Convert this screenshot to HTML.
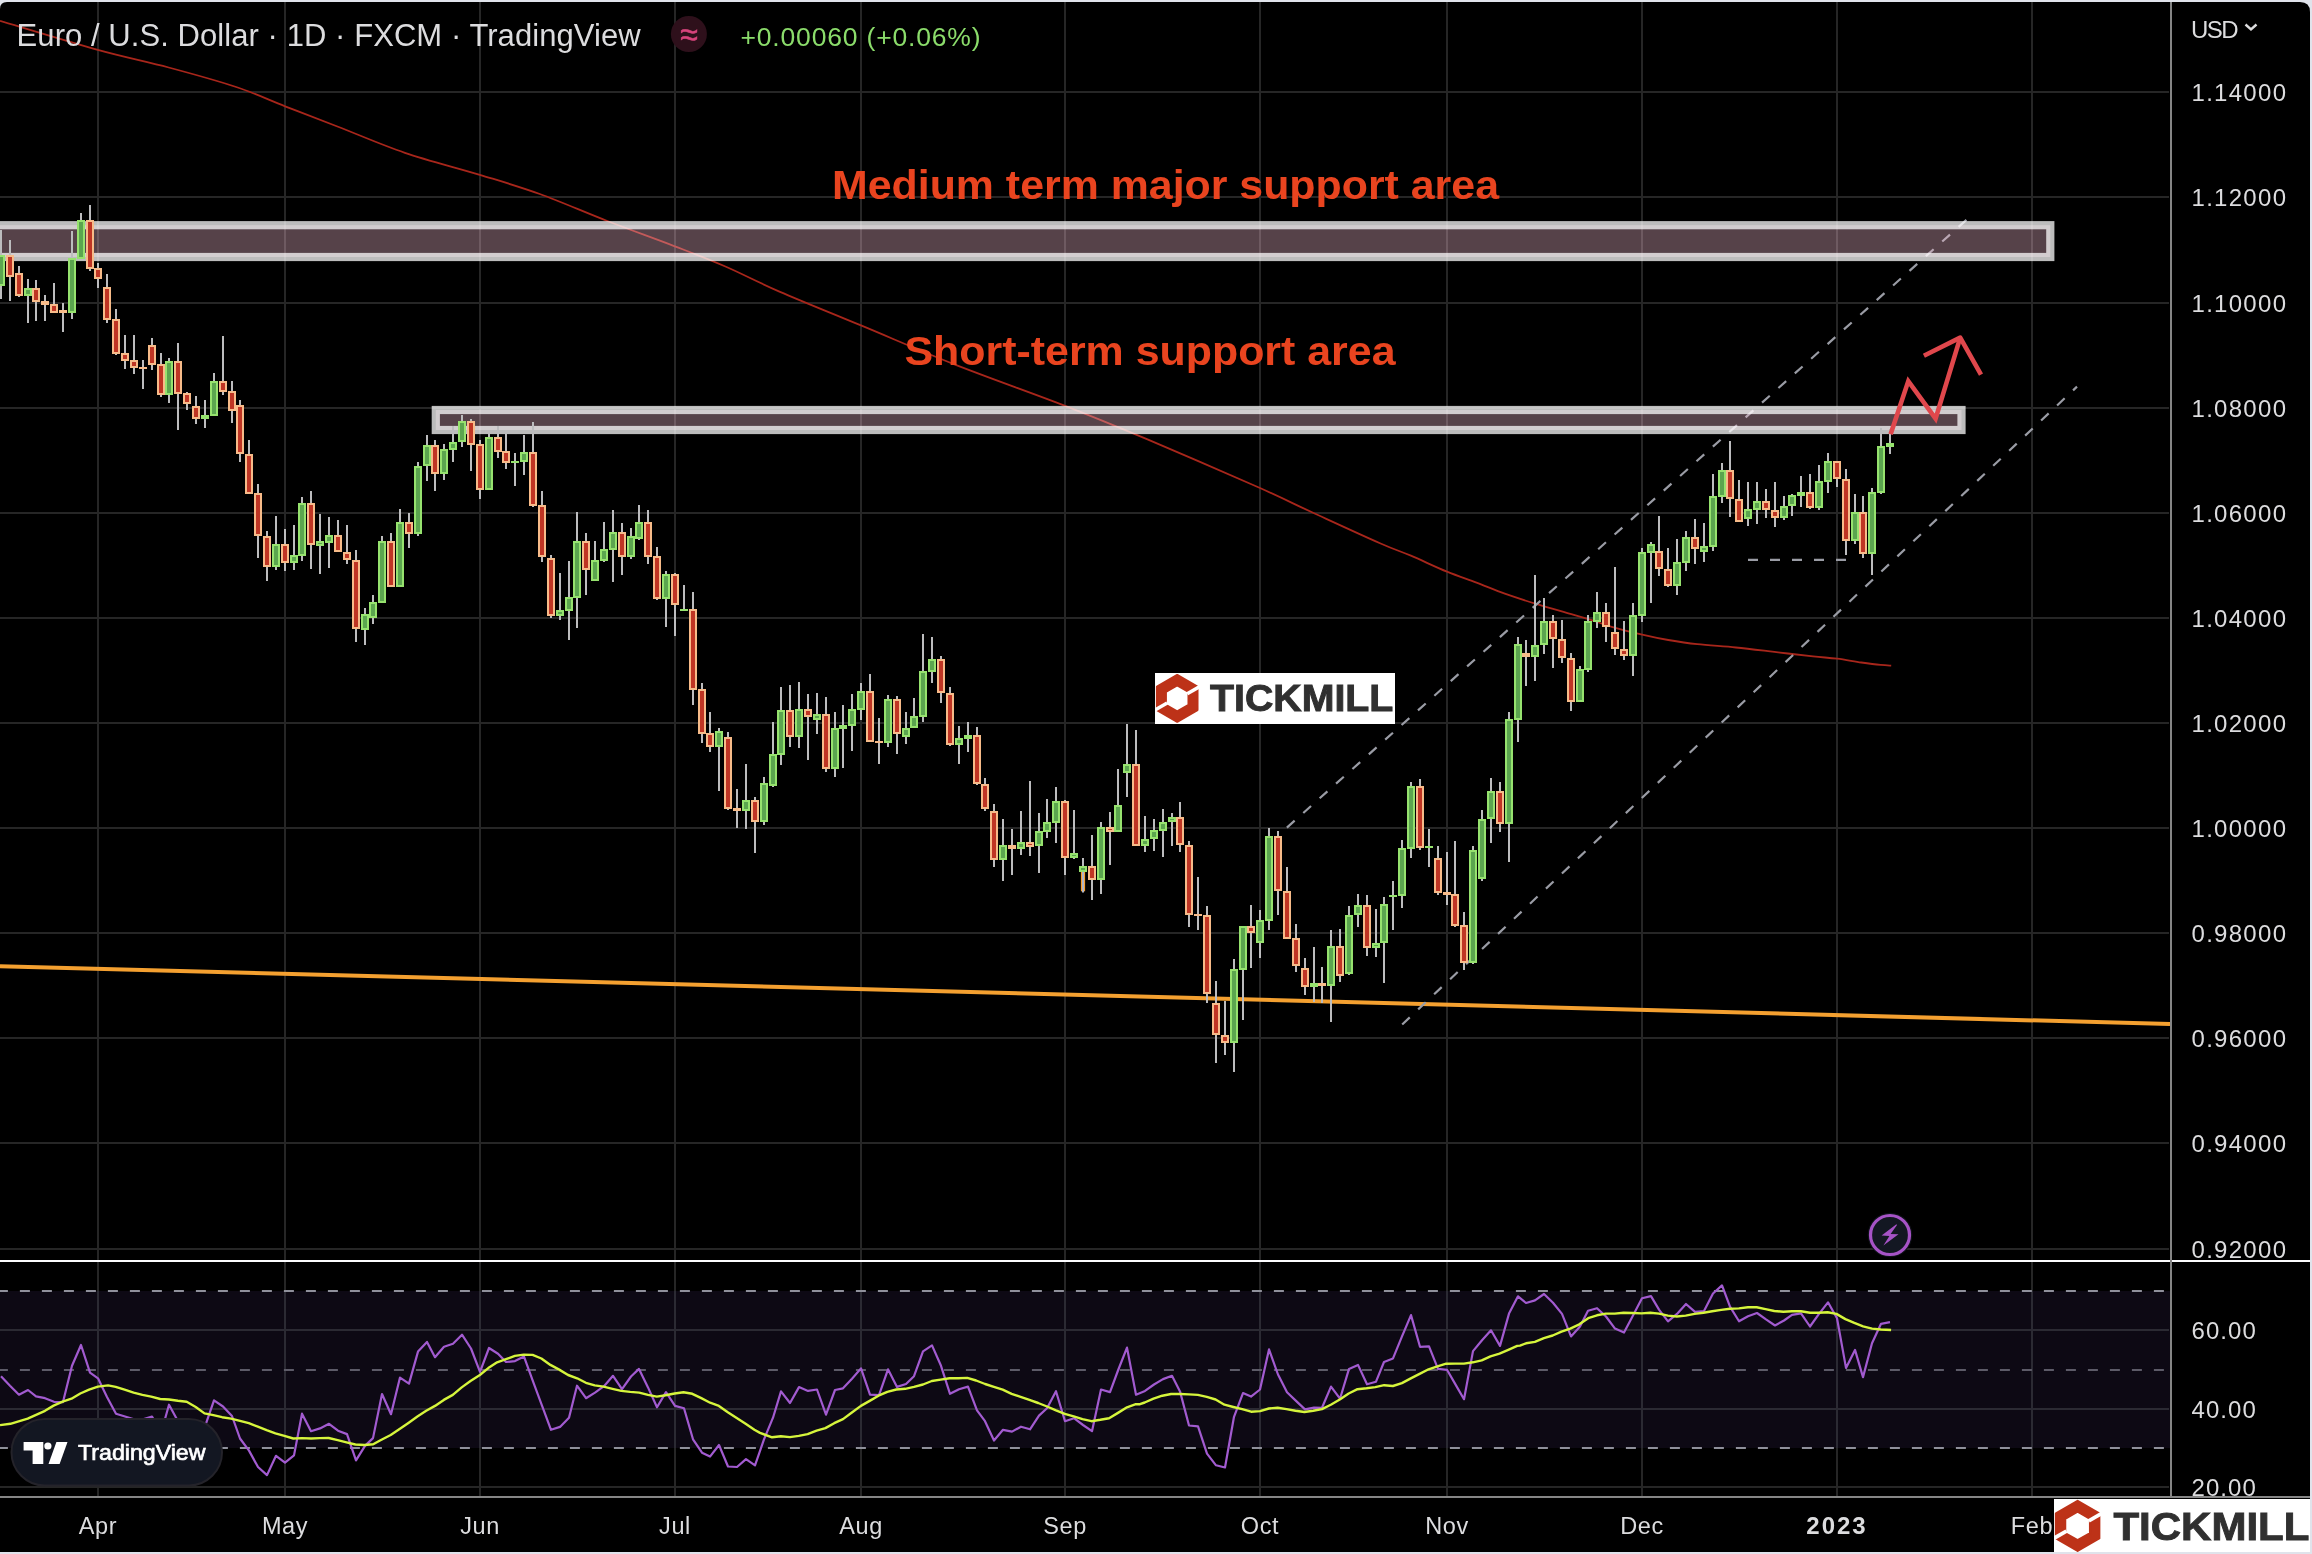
<!DOCTYPE html>
<html lang="en"><head><meta charset="utf-8"><title>EURUSD 1D chart</title>
<style>html,body{margin:0;padding:0;background:#e0e3eb;}body{width:2312px;height:1554px;overflow:hidden;}svg{display:block;will-change:transform;}text{font-family:"Liberation Sans",Arial,Helvetica,sans-serif;}</style></head><body>
<svg width="2312" height="1554" viewBox="0 0 2312 1554">
<rect x="0" y="0" width="2312" height="1554" fill="#e0e3eb"/>
<path d="M0 1552V9Q0 2 7 2H2300Q2310 2 2310 12V1552Z" fill="#000"/>
<g stroke="#262626" stroke-width="2" fill="none">
<line x1="98" y1="2" x2="98" y2="1497"/>
<line x1="285" y1="2" x2="285" y2="1497"/>
<line x1="480" y1="2" x2="480" y2="1497"/>
<line x1="675" y1="2" x2="675" y2="1497"/>
<line x1="861" y1="2" x2="861" y2="1497"/>
<line x1="1065" y1="2" x2="1065" y2="1497"/>
<line x1="1260" y1="2" x2="1260" y2="1497"/>
<line x1="1447" y1="2" x2="1447" y2="1497"/>
<line x1="1642" y1="2" x2="1642" y2="1497"/>
<line x1="1837" y1="2" x2="1837" y2="1497"/>
<line x1="2032" y1="2" x2="2032" y2="1497"/>
<line x1="0" y1="92.0" x2="2169" y2="92.0"/>
<line x1="0" y1="197.0" x2="2169" y2="197.0"/>
<line x1="0" y1="303.0" x2="2169" y2="303.0"/>
<line x1="0" y1="408.0" x2="2169" y2="408.0"/>
<line x1="0" y1="513.0" x2="2169" y2="513.0"/>
<line x1="0" y1="618.0" x2="2169" y2="618.0"/>
<line x1="0" y1="723.0" x2="2169" y2="723.0"/>
<line x1="0" y1="828.0" x2="2169" y2="828.0"/>
<line x1="0" y1="933.0" x2="2169" y2="933.0"/>
<line x1="0" y1="1038.0" x2="2169" y2="1038.0"/>
<line x1="0" y1="1143.0" x2="2169" y2="1143.0"/>
<line x1="0" y1="1249.0" x2="2169" y2="1249.0"/>
</g>
<rect x="0" y="1291" width="2170" height="157" fill="#7e57c2" fill-opacity="0.1"/>
<g stroke="#2b2a33" stroke-width="2">
<line x1="0" y1="1330" x2="2169" y2="1330"/>
<line x1="0" y1="1409" x2="2169" y2="1409"/>
</g>
<line x1="0" y1="1487" x2="2169" y2="1487" stroke="#262626" stroke-width="2"/>
<g stroke="#2b2a33" stroke-width="2">
<line x1="98" y1="1291" x2="98" y2="1448"/>
<line x1="285" y1="1291" x2="285" y2="1448"/>
<line x1="480" y1="1291" x2="480" y2="1448"/>
<line x1="675" y1="1291" x2="675" y2="1448"/>
<line x1="861" y1="1291" x2="861" y2="1448"/>
<line x1="1065" y1="1291" x2="1065" y2="1448"/>
<line x1="1260" y1="1291" x2="1260" y2="1448"/>
<line x1="1447" y1="1291" x2="1447" y2="1448"/>
<line x1="1642" y1="1291" x2="1642" y2="1448"/>
<line x1="1837" y1="1291" x2="1837" y2="1448"/>
<line x1="2032" y1="1291" x2="2032" y2="1448"/>
</g>
<g stroke="#8f909b" stroke-width="2" stroke-dasharray="10 12" stroke-dashoffset="2.1">
<line x1="0" y1="1291" x2="2166" y2="1291"/>
<line x1="0" y1="1448" x2="2166" y2="1448"/>
</g>
<line x1="0" y1="1370" x2="2166" y2="1370" stroke="#5d5b68" stroke-width="2" stroke-dasharray="10 12" stroke-dashoffset="2.1"/>
<path d="M0.0 20.9C16.3 25.7 69.7 42.1 97.8 49.9C125.9 57.7 145.6 61.3 168.7 67.5C191.8 73.7 216.8 80.5 236.2 87.0C255.6 93.5 268.2 99.7 285.1 106.3C302.0 112.9 317.4 118.8 337.4 126.5C357.4 134.2 381.2 144.8 404.9 152.8C428.6 160.9 457.3 167.9 479.8 174.8C502.3 181.7 518.5 186.3 539.8 194.0C561.0 201.7 584.8 212.3 607.3 221.0C629.8 229.7 655.1 238.7 674.8 246.3C694.5 253.9 707.9 258.9 725.4 266.5C742.9 274.1 757.4 282.0 780.0 291.8C802.6 301.6 832.0 313.3 861.0 325.4C890.0 337.4 919.9 350.7 953.8 364.1C987.7 377.5 1032.2 393.1 1064.5 405.6C1096.8 418.2 1115.2 425.8 1147.5 439.4C1179.8 453.0 1230.6 475.0 1258.3 487.3C1286.0 499.6 1293.3 503.7 1313.6 513.0C1333.9 522.3 1363.8 536.1 1380.0 543.2C1396.2 550.3 1399.7 551.0 1410.9 555.7C1422.1 560.5 1436.1 567.2 1447.0 571.7C1457.9 576.2 1466.8 579.0 1476.5 582.7C1486.2 586.4 1495.8 590.5 1505.5 593.9C1515.2 597.3 1523.2 599.9 1534.4 603.4C1545.7 606.9 1563.3 611.8 1573.0 614.6C1582.7 617.4 1586.0 618.4 1592.4 620.4C1598.9 622.4 1603.4 624.4 1611.7 626.8C1620.0 629.2 1632.8 632.4 1642.2 634.6C1651.6 636.8 1659.1 638.4 1668.3 640.0C1677.5 641.6 1686.0 643.0 1697.2 644.2C1708.5 645.5 1722.9 646.2 1735.8 647.5C1748.7 648.8 1761.5 650.4 1774.4 651.9C1787.3 653.4 1802.6 655.3 1813.1 656.4C1823.6 657.5 1829.2 657.7 1837.2 658.7C1845.2 659.7 1854.1 661.5 1861.3 662.5C1868.5 663.5 1875.6 664.4 1880.6 664.9C1885.6 665.4 1889.4 665.5 1891.2 665.6" fill="none" stroke="#a8261b" stroke-width="1.8"/>
<line x1="0" y1="966.2" x2="2170" y2="1024" stroke="#f4a030" stroke-width="4"/>
<g stroke="#9a9ca5" stroke-width="2.2" fill="none" stroke-dasharray="10.4 11.58">
<line x1="1286.9" y1="827.6" x2="1967.2" y2="219.2"/>
<line x1="1402.2" y1="1024.5" x2="2077" y2="386.6"/>
<line x1="1748" y1="559.8" x2="1846" y2="559.8" stroke-dasharray="10 12"/>
</g>
<rect x="-20" y="225.2" width="2070.3" height="31.80000000000001" fill="rgb(245,190,210)" fill-opacity="0.35" stroke="#fff" stroke-opacity="0.737" stroke-width="8.2"/>
<rect x="435.8" y="410" width="1525.7" height="20" fill="rgb(245,190,210)" fill-opacity="0.35" stroke="#fff" stroke-opacity="0.737" stroke-width="8.2"/>
<path d="M1 230V299M10 240V301M19 266V297M28 279V323M36 280V321M45 295V321M54 283V313M63 303V332M72 231V319M81 213V259M90 205V271M98 263V288M107 274V323M116 309V355M125 335V369M134 335V374M143 360V389M152 338V370M161 353V397M169 358V403M178 343V430M187 392V410M196 396V424M205 400V428M214 373V416M223 336V395M232 381V423M240 400V462M249 440V494M258 484V558M267 531V581M276 516V570M285 529V571M294 525V570M302 497V561M311 491V569M320 514V574M329 517V568M338 520V552M347 525V564M356 550V642M365 608V645M373 595V624M382 536V603M391 533V587M400 509V587M409 513V548M418 462V536M427 435V481M435 440V491M444 444V480M453 426V462M462 415V447M471 419V471M480 440V499M489 434V490M498 426V458M506 434V469M515 453V486M524 435V475M533 422V507M542 491V562M551 555V618M560 573V620M569 561V640M577 512V628M586 533V595M595 541V581M604 522V562M613 510V582M622 523V575M631 528V559M639 505V540M648 510V564M657 547V600M666 571V627M675 573V636M684 585V611M693 592V705M702 683V743M710 712V752M719 728V791M728 732V810M737 789V828M746 764V829M755 797V853M764 777V825M773 722V787M781 687V765M790 685V747M799 682V748M808 694V760M817 693V734M826 697V772M835 712V777M843 705V768M852 694V751M861 683V720M870 674V742M879 718V764M888 695V747M897 696V754M906 712V744M914 698V728M923 634V722M932 637V683M941 656V703M950 687V746M959 726V764M968 722V752M977 727V785M985 778V811M994 804V867M1003 819V881M1012 829V875M1021 811V855M1030 781V856M1039 813V873M1047 799V838M1056 787V843M1065 800V875M1074 810V859M1083 858V892M1092 835V900M1101 822V894M1110 812V865M1118 769V832M1127 724V797M1136 730V846M1145 816V852M1154 819V851M1163 809V857M1172 813V846M1180 802V852M1189 841V927M1198 877V930M1207 906V1003M1216 981V1063M1225 1001V1055M1234 959V1072M1243 926V1020M1251 905V968M1260 910V958M1269 828V930M1278 831V915M1287 867V939M1296 924V972M1305 958V995M1314 947V1002M1322 967V1003M1331 930V1022M1340 929V982M1349 906V975M1358 894V927M1367 895V956M1376 909V957M1384 897V983M1393 881V930M1402 840V908M1411 782V858M1420 779V850M1429 829V867M1438 846V895M1447 852V905M1455 841V927M1464 912V970M1473 846V964M1482 810V881M1491 778V843M1500 782V832M1509 712V862M1518 637V742M1526 640V686M1535 575V681M1544 598V654M1553 615V668M1562 620V663M1571 653V711M1580 666V702M1588 615V672M1597 592V628M1606 603V642M1615 567V655M1624 621V660M1633 603V676M1642 548V622M1651 542V603M1659 516V576M1668 548V587M1677 539V595M1686 531V571M1695 519V564M1704 523V562M1713 474V551M1722 463V503M1730 441V517M1739 480V522M1748 482V526M1757 482V524M1766 489V518M1775 482V527M1784 496V520M1792 494V516M1801 476V507M1810 474V509M1819 465V510M1828 453V493M1837 461V487M1846 469V555M1855 494V544M1863 496V558M1872 488V575M1881 428V494M1890 429V454" stroke="#bcbcbe" stroke-width="2" fill="none"/>
<path d="M-3 255h8v31h-8zM24 288h8v8h-8zM68 258h8v55h-8zM77 220h8v39h-8zM165 361h8v34h-8zM201 415h8v4h-8zM210 381h8v35h-8zM272 544h8v23h-8zM290 555h8v8h-8zM298 503h8v53h-8zM316 541h8v5h-8zM325 535h8v8h-8zM361 614h8v16h-8zM369 602h8v16h-8zM378 541h8v62h-8zM396 522h8v65h-8zM414 466h8v68h-8zM423 445h8v21h-8zM440 449h8v25h-8zM449 442h8v8h-8zM458 421h8v21h-8zM485 437h8v53h-8zM511 461h8v2h-8zM520 452h8v10h-8zM556 610h8v6h-8zM565 597h8v14h-8zM573 541h8v57h-8zM591 560h8v21h-8zM600 549h8v12h-8zM609 532h8v18h-8zM627 536h8v21h-8zM635 522h8v17h-8zM662 574h8v25h-8zM680 609h8v2h-8zM715 731h8v16h-8zM742 800h8v11h-8zM760 783h8v39h-8zM769 754h8v32h-8zM777 710h8v45h-8zM795 709h8v28h-8zM813 714h8v6h-8zM831 728h8v41h-8zM839 725h8v4h-8zM848 709h8v17h-8zM857 691h8v19h-8zM884 699h8v44h-8zM902 728h8v9h-8zM910 716h8v12h-8zM919 671h8v46h-8zM928 659h8v13h-8zM955 738h8v7h-8zM964 735h8v4h-8zM999 845h8v15h-8zM1017 842h8v7h-8zM1035 831h8v15h-8zM1043 822h8v10h-8zM1052 801h8v22h-8zM1070 853h8v5h-8zM1079 866h8v6h-8zM1097 827h8v53h-8zM1114 805h8v27h-8zM1123 764h8v9h-8zM1141 839h8v7h-8zM1150 830h8v9h-8zM1159 822h8v9h-8zM1168 817h8v5h-8zM1230 969h8v74h-8zM1239 926h8v44h-8zM1256 920h8v23h-8zM1265 836h8v85h-8zM1310 983h8v4h-8zM1327 946h8v40h-8zM1345 915h8v59h-8zM1354 905h8v10h-8zM1372 943h8v5h-8zM1380 904h8v39h-8zM1389 895h8v2h-8zM1398 848h8v48h-8zM1407 786h8v63h-8zM1425 846h8v2h-8zM1469 850h8v113h-8zM1478 819h8v60h-8zM1487 791h8v28h-8zM1505 719h8v105h-8zM1514 644h8v76h-8zM1531 645h8v12h-8zM1540 621h8v24h-8zM1576 669h8v33h-8zM1584 621h8v49h-8zM1593 612h8v10h-8zM1629 615h8v41h-8zM1638 552h8v64h-8zM1647 544h8v9h-8zM1673 562h8v24h-8zM1682 537h8v26h-8zM1700 546h8v6h-8zM1709 496h8v51h-8zM1718 470h8v27h-8zM1744 509h8v10h-8zM1753 501h8v9h-8zM1780 506h8v12h-8zM1788 495h8v11h-8zM1797 492h8v4h-8zM1815 481h8v27h-8zM1824 461h8v21h-8zM1851 512h8v29h-8zM1868 492h8v62h-8zM1877 446h8v47h-8zM1886 443h8v4h-8z" fill="#96e26e"/>
<path d="M6 255h8v22h-8zM15 273h8v23h-8zM32 288h8v14h-8zM41 301h8v4h-8zM50 304h8v9h-8zM59 310h8v3h-8zM86 220h8v49h-8zM94 268h8v11h-8zM103 287h8v33h-8zM112 319h8v35h-8zM121 353h8v8h-8zM130 360h8v8h-8zM139 367h8v2h-8zM148 345h8v20h-8zM157 364h8v31h-8zM174 361h8v33h-8zM183 393h8v11h-8zM192 406h8v13h-8zM219 381h8v11h-8zM228 391h8v20h-8zM236 405h8v49h-8zM245 454h8v40h-8zM254 493h8v43h-8zM263 536h8v31h-8zM281 544h8v19h-8zM307 503h8v42h-8zM334 535h8v17h-8zM343 552h8v8h-8zM352 560h8v69h-8zM387 541h8v46h-8zM405 522h8v12h-8zM431 445h8v29h-8zM467 421h8v24h-8zM476 444h8v46h-8zM494 437h8v15h-8zM502 451h8v12h-8zM529 452h8v54h-8zM538 505h8v52h-8zM547 558h8v58h-8zM582 541h8v29h-8zM618 532h8v25h-8zM644 522h8v35h-8zM653 556h8v43h-8zM671 574h8v31h-8zM689 609h8v81h-8zM698 689h8v45h-8zM706 733h8v14h-8zM724 737h8v72h-8zM733 808h8v3h-8zM751 800h8v22h-8zM786 710h8v27h-8zM804 709h8v8h-8zM822 714h8v55h-8zM866 691h8v51h-8zM875 741h8v2h-8zM893 699h8v35h-8zM937 659h8v34h-8zM946 693h8v52h-8zM973 735h8v49h-8zM981 784h8v25h-8zM990 811h8v49h-8zM1008 845h8v4h-8zM1026 842h8v5h-8zM1061 801h8v57h-8zM1088 866h8v14h-8zM1106 827h8v5h-8zM1132 764h8v82h-8zM1176 817h8v28h-8zM1185 845h8v70h-8zM1194 914h8v2h-8zM1203 915h8v79h-8zM1212 1003h8v32h-8zM1221 1035h8v8h-8zM1247 926h8v7h-8zM1274 836h8v55h-8zM1283 891h8v48h-8zM1292 938h8v28h-8zM1301 968h8v19h-8zM1318 983h8v3h-8zM1336 946h8v30h-8zM1363 905h8v43h-8zM1416 786h8v62h-8zM1434 858h8v35h-8zM1443 892h8v3h-8zM1451 894h8v32h-8zM1460 925h8v38h-8zM1496 791h8v33h-8zM1522 653h8v4h-8zM1549 621h8v18h-8zM1558 639h8v19h-8zM1567 658h8v44h-8zM1602 612h8v15h-8zM1611 632h8v17h-8zM1620 649h8v7h-8zM1655 551h8v18h-8zM1664 569h8v17h-8zM1691 537h8v12h-8zM1726 470h8v29h-8zM1735 499h8v23h-8zM1762 501h8v9h-8zM1771 510h8v8h-8zM1806 492h8v16h-8zM1833 461h8v18h-8zM1842 479h8v62h-8zM1859 512h8v42h-8z" fill="#f7bb89"/>
<path d="M-1 257h4v27h-4zM26 290h4v4h-4zM70 260h4v51h-4zM79 222h4v35h-4zM167 363h4v30h-4zM212 383h4v31h-4zM274 546h4v19h-4zM292 557h4v4h-4zM300 505h4v49h-4zM318 543h4v1h-4zM327 537h4v4h-4zM363 616h4v12h-4zM371 604h4v12h-4zM380 543h4v58h-4zM398 524h4v61h-4zM416 468h4v64h-4zM425 447h4v17h-4zM442 451h4v21h-4zM451 444h4v4h-4zM460 423h4v17h-4zM487 439h4v49h-4zM522 454h4v6h-4zM558 612h4v2h-4zM567 599h4v10h-4zM575 543h4v53h-4zM593 562h4v17h-4zM602 551h4v8h-4zM611 534h4v14h-4zM629 538h4v17h-4zM637 524h4v13h-4zM664 576h4v21h-4zM717 733h4v12h-4zM744 802h4v7h-4zM762 785h4v35h-4zM771 756h4v28h-4zM779 712h4v41h-4zM797 711h4v24h-4zM815 716h4v2h-4zM833 730h4v37h-4zM850 711h4v13h-4zM859 693h4v15h-4zM886 701h4v40h-4zM904 730h4v5h-4zM912 718h4v8h-4zM921 673h4v42h-4zM930 661h4v9h-4zM957 740h4v3h-4zM1001 847h4v11h-4zM1019 844h4v3h-4zM1037 833h4v11h-4zM1045 824h4v6h-4zM1054 803h4v18h-4zM1072 855h4v1h-4zM1081 868h4v2h-4zM1099 829h4v49h-4zM1116 807h4v23h-4zM1125 766h4v5h-4zM1143 841h4v3h-4zM1152 832h4v5h-4zM1161 824h4v5h-4zM1170 819h4v1h-4zM1232 971h4v70h-4zM1241 928h4v40h-4zM1258 922h4v19h-4zM1267 838h4v81h-4zM1329 948h4v36h-4zM1347 917h4v55h-4zM1356 907h4v6h-4zM1374 945h4v1h-4zM1382 906h4v35h-4zM1400 850h4v44h-4zM1409 788h4v59h-4zM1471 852h4v109h-4zM1480 821h4v56h-4zM1489 793h4v24h-4zM1507 721h4v101h-4zM1516 646h4v72h-4zM1533 647h4v8h-4zM1542 623h4v20h-4zM1578 671h4v29h-4zM1586 623h4v45h-4zM1595 614h4v6h-4zM1631 617h4v37h-4zM1640 554h4v60h-4zM1649 546h4v5h-4zM1675 564h4v20h-4zM1684 539h4v22h-4zM1702 548h4v2h-4zM1711 498h4v47h-4zM1720 472h4v23h-4zM1746 511h4v6h-4zM1755 503h4v5h-4zM1782 508h4v8h-4zM1790 497h4v7h-4zM1817 483h4v23h-4zM1826 463h4v17h-4zM1853 514h4v25h-4zM1870 494h4v58h-4zM1879 448h4v43h-4z" fill="#5ba54f"/>
<path d="M8 257h4v18h-4zM17 275h4v19h-4zM34 290h4v10h-4zM52 306h4v5h-4zM88 222h4v45h-4zM96 270h4v7h-4zM105 289h4v29h-4zM114 321h4v31h-4zM123 355h4v4h-4zM132 362h4v4h-4zM150 347h4v16h-4zM159 366h4v27h-4zM176 363h4v29h-4zM185 395h4v7h-4zM194 408h4v9h-4zM221 383h4v7h-4zM230 393h4v16h-4zM238 407h4v45h-4zM247 456h4v36h-4zM256 495h4v39h-4zM265 538h4v27h-4zM283 546h4v15h-4zM309 505h4v38h-4zM336 537h4v13h-4zM345 554h4v4h-4zM354 562h4v65h-4zM389 543h4v42h-4zM407 524h4v8h-4zM433 447h4v25h-4zM469 423h4v20h-4zM478 446h4v42h-4zM496 439h4v11h-4zM504 453h4v8h-4zM531 454h4v50h-4zM540 507h4v48h-4zM549 560h4v54h-4zM584 543h4v25h-4zM620 534h4v21h-4zM646 524h4v31h-4zM655 558h4v39h-4zM673 576h4v27h-4zM691 611h4v77h-4zM700 691h4v41h-4zM708 735h4v10h-4zM726 739h4v68h-4zM753 802h4v18h-4zM788 712h4v23h-4zM806 711h4v4h-4zM824 716h4v51h-4zM868 693h4v47h-4zM895 701h4v31h-4zM939 661h4v30h-4zM948 695h4v48h-4zM975 737h4v45h-4zM983 786h4v21h-4zM992 813h4v45h-4zM1028 844h4v1h-4zM1063 803h4v53h-4zM1090 868h4v10h-4zM1108 829h4v1h-4zM1134 766h4v78h-4zM1178 819h4v24h-4zM1187 847h4v66h-4zM1205 917h4v75h-4zM1214 1005h4v28h-4zM1223 1037h4v4h-4zM1249 928h4v3h-4zM1276 838h4v51h-4zM1285 893h4v44h-4zM1294 940h4v24h-4zM1303 970h4v15h-4zM1338 948h4v26h-4zM1365 907h4v39h-4zM1418 788h4v58h-4zM1436 860h4v31h-4zM1453 896h4v28h-4zM1462 927h4v34h-4zM1498 793h4v29h-4zM1551 623h4v14h-4zM1560 641h4v15h-4zM1569 660h4v40h-4zM1604 614h4v11h-4zM1613 634h4v13h-4zM1622 651h4v3h-4zM1657 553h4v14h-4zM1666 571h4v13h-4zM1693 539h4v8h-4zM1728 472h4v25h-4zM1737 501h4v19h-4zM1764 503h4v5h-4zM1773 512h4v4h-4zM1808 494h4v12h-4zM1835 463h4v14h-4zM1844 481h4v58h-4zM1861 514h4v38h-4z" fill="#bf3524"/>
<rect x="1080.9" y="872" width="4.2" height="19.3" fill="#f5a030"/>
<rect x="1082" y="872" width="2" height="20.5" fill="#b0b5c8"/>
<g stroke="#e0474c" stroke-width="4.6" fill="none" stroke-linejoin="round">
<path d="M1890.6 434.2L1908.3 381.1L1935.6 418.7L1960 338.4" stroke-linejoin="miter"/>
<path d="M1923.9 355.8L1960.2 337.6L1981 374.6"/>
</g>
<g fill="#e9441f" font-weight="bold" font-size="40px">
<text x="832" y="199.2" textLength="667" lengthAdjust="spacingAndGlyphs">Medium term major support area</text>
<text x="904.5" y="365.3" textLength="491" lengthAdjust="spacingAndGlyphs">Short-term support area</text>
</g>
<rect x="1155" y="673" width="240" height="51" fill="#fff"/>
<clipPath id="tk1"><rect x="1155" y="673" width="240" height="51"/></clipPath>
<g clip-path="url(#tk1)">
<path d="M1177.20 675.00L1197.46 686.70L1197.46 710.10L1177.20 721.80L1156.94 710.10L1156.94 686.70ZM1165.86 691.85L1165.86 704.95L1177.20 711.50L1188.54 704.95L1188.54 691.85L1177.20 685.30Z" fill="#bd3218" fill-rule="evenodd" stroke="#bd3218" stroke-width="2.11" stroke-linejoin="round"/>
<line x1="1187.25" y1="693.83" x2="1208.81" y2="681.38" stroke="#fff" stroke-width="3.51"/>
<line x1="1167.15" y1="702.97" x2="1145.59" y2="715.42" stroke="#fff" stroke-width="3.51"/>
</g>
<text x="1210" y="711.4" font-weight="bold" font-size="36.4px" fill="#303030" stroke="#303030" stroke-width="0.9" textLength="183.4" lengthAdjust="spacingAndGlyphs">TICKMILL</text>
<circle cx="1890" cy="1235" r="22.3" fill="#0e1118"/>
<circle cx="1890" cy="1235" r="19.5" fill="#131722" stroke="#a653c6" stroke-width="3.2"/>
<path d="M1896.4 1224.2L1881.6 1235.4L1889.4 1236L1883.4 1245.4L1898.5 1234.3L1890.6 1233.9L1897 1224.9Z" fill="#a653c6"/>
<path d="M1.0 1376.2L10.0 1385.7L19.0 1394.7L28.0 1390.0L36.0 1396.4L45.0 1398.2L54.0 1401.8L63.0 1402.1L72.0 1365.8L81.0 1345.0L90.0 1372.7L98.0 1378.3L107.0 1396.9L116.0 1413.7L125.0 1416.5L134.0 1419.4L143.0 1419.4L152.0 1416.5L161.0 1433.3L169.0 1404.7L178.0 1421.2L187.0 1433.3L196.0 1436.7L205.0 1426.4L214.0 1400.4L223.0 1406.5L232.0 1416.0L240.0 1438.5L249.0 1450.6L258.0 1467.0L267.0 1475.1L276.0 1455.8L285.0 1462.7L294.0 1455.4L302.0 1413.7L311.0 1431.2L320.0 1428.4L329.0 1423.8L338.0 1430.7L347.0 1434.1L356.0 1460.4L365.0 1445.9L373.0 1438.1L382.0 1394.0L391.0 1414.2L400.0 1377.6L409.0 1383.6L418.0 1351.6L427.0 1341.9L435.0 1357.2L444.0 1346.8L453.0 1343.7L462.0 1334.7L471.0 1348.5L480.0 1371.9L489.0 1348.0L498.0 1353.7L506.0 1362.0L515.0 1361.1L524.0 1356.6L533.0 1381.4L542.0 1405.6L551.0 1429.8L560.0 1426.9L569.0 1417.7L577.0 1385.7L586.0 1398.2L595.0 1392.6L604.0 1386.2L613.0 1375.8L622.0 1389.2L631.0 1376.5L639.0 1368.9L648.0 1387.4L657.0 1407.3L666.0 1392.1L675.0 1405.9L684.0 1408.2L693.0 1439.3L702.0 1452.7L710.0 1456.6L719.0 1445.0L728.0 1466.5L737.0 1467.0L746.0 1459.2L755.0 1465.3L764.0 1439.3L773.0 1417.7L781.0 1391.4L790.0 1403.0L799.0 1387.1L808.0 1390.9L817.0 1389.5L826.0 1414.6L835.0 1390.0L843.0 1388.3L852.0 1378.8L861.0 1368.4L870.0 1394.7L879.0 1395.2L888.0 1369.3L897.0 1386.9L906.0 1384.0L914.0 1376.2L923.0 1351.4L932.0 1345.4L941.0 1365.8L950.0 1393.8L959.0 1389.2L968.0 1386.6L977.0 1410.4L985.0 1421.2L994.0 1440.5L1003.0 1429.8L1012.0 1431.6L1021.0 1426.7L1030.0 1429.3L1039.0 1415.6L1047.0 1408.2L1056.0 1391.2L1065.0 1421.2L1074.0 1418.2L1083.0 1425.0L1092.0 1431.2L1101.0 1389.5L1110.0 1392.1L1118.0 1370.5L1127.0 1347.6L1136.0 1394.7L1145.0 1390.9L1154.0 1384.5L1163.0 1379.1L1172.0 1375.8L1180.0 1391.4L1189.0 1425.5L1198.0 1426.4L1207.0 1453.7L1216.0 1465.3L1225.0 1467.5L1234.0 1416.8L1243.0 1393.1L1251.0 1396.6L1260.0 1389.5L1269.0 1349.4L1278.0 1374.5L1287.0 1392.3L1296.0 1400.9L1305.0 1409.4L1314.0 1407.7L1322.0 1407.8L1331.0 1386.6L1340.0 1398.7L1349.0 1368.9L1358.0 1364.9L1367.0 1384.3L1376.0 1381.7L1384.0 1362.0L1393.0 1358.4L1402.0 1336.4L1411.0 1315.1L1420.0 1346.8L1429.0 1346.4L1438.0 1368.9L1447.0 1369.8L1455.0 1383.6L1464.0 1399.2L1473.0 1351.1L1482.0 1340.2L1491.0 1330.3L1500.0 1345.9L1509.0 1313.6L1518.0 1296.3L1526.0 1303.0L1535.0 1300.4L1544.0 1294.0L1553.0 1302.7L1562.0 1313.9L1571.0 1336.4L1580.0 1326.5L1588.0 1310.8L1597.0 1308.2L1606.0 1316.5L1615.0 1328.6L1624.0 1332.6L1633.0 1315.6L1642.0 1298.3L1651.0 1296.1L1659.0 1309.6L1668.0 1321.3L1677.0 1313.9L1686.0 1304.0L1695.0 1311.8L1704.0 1311.0L1713.0 1293.5L1722.0 1285.4L1730.0 1306.6L1739.0 1321.3L1748.0 1316.2L1757.0 1313.0L1766.0 1319.4L1775.0 1325.5L1784.0 1320.5L1792.0 1314.8L1801.0 1313.4L1810.0 1326.5L1819.0 1313.9L1828.0 1302.3L1837.0 1318.2L1846.0 1367.9L1855.0 1349.9L1863.0 1377.1L1872.0 1343.3L1881.0 1323.8L1890.0 1322.2" fill="none" stroke="#a25bd0" stroke-width="2.2" stroke-linejoin="round"/>
<path d="M0.0 1425.1L10.4 1423.8L27.7 1418.6L45.0 1410.8L53.6 1405.6L62.6 1401.6L71.5 1398.7L80.3 1393.5L89.1 1389.7L97.9 1386.6L108.1 1385.4L115.7 1386.9L124.6 1389.7L133.6 1392.6L142.4 1394.9L151.2 1396.6L160.2 1399.0L169.0 1399.5L177.9 1400.8L186.7 1401.8L195.7 1407.0L204.5 1413.4L213.3 1415.1L222.1 1417.2L231.1 1418.6L240.0 1420.8L248.8 1423.2L257.8 1426.7L266.6 1430.2L275.4 1433.3L284.4 1435.9L293.3 1438.5L302.1 1438.1L311.1 1438.5L319.9 1438.1L328.7 1438.0L337.7 1440.2L346.5 1442.3L355.4 1444.5L364.4 1445.0L373.2 1444.2L380.0 1440.5L390.7 1435.0L399.6 1429.0L408.4 1422.9L417.4 1416.5L426.2 1410.8L435.0 1405.9L443.8 1399.9L452.8 1394.9L461.7 1387.4L470.5 1381.0L479.5 1375.3L488.3 1368.1L497.1 1362.3L506.0 1359.2L514.9 1355.9L523.8 1354.6L532.6 1354.9L541.4 1358.5L550.4 1364.9L559.2 1369.6L568.1 1375.0L577.1 1378.3L585.9 1382.8L594.7 1385.4L603.5 1386.6L612.5 1388.8L621.3 1390.9L630.2 1391.9L639.2 1392.6L648.0 1394.9L656.8 1396.6L665.6 1395.2L674.6 1393.5L683.5 1392.3L692.3 1393.8L701.3 1398.2L710.1 1402.7L718.9 1405.9L727.8 1412.2L736.7 1418.1L745.6 1423.8L754.4 1429.8L760.0 1432.9L772.1 1437.3L780.9 1436.2L789.9 1437.1L798.8 1435.9L807.6 1434.1L816.6 1430.7L825.4 1428.1L834.2 1423.2L843.0 1419.1L851.9 1412.5L860.9 1405.9L869.7 1400.9L878.5 1395.7L887.3 1391.8L896.3 1389.5L905.2 1388.8L914.0 1386.9L923.0 1384.5L931.8 1381.0L940.6 1379.6L949.6 1378.3L958.4 1378.3L967.3 1377.9L976.1 1380.5L985.1 1384.0L993.9 1386.9L1002.7 1389.7L1011.6 1393.8L1020.6 1396.9L1029.4 1399.9L1038.2 1403.0L1047.0 1406.5L1056.0 1410.4L1064.8 1413.9L1073.7 1416.3L1082.5 1419.1L1091.5 1421.2L1100.3 1419.8L1109.1 1418.2L1118.0 1412.9L1127.0 1407.3L1135.8 1404.2L1140.0 1404.2L1144.7 1402.5L1153.5 1398.7L1162.3 1395.7L1171.1 1394.0L1180.1 1394.0L1189.0 1394.4L1197.8 1394.9L1206.8 1396.9L1215.6 1399.5L1224.4 1404.7L1233.3 1407.0L1242.2 1409.1L1251.1 1411.7L1260.1 1411.1L1268.9 1408.5L1277.7 1407.8L1286.5 1409.1L1295.4 1410.8L1304.4 1412.0L1313.2 1410.8L1322.0 1409.1L1330.8 1404.7L1339.8 1399.5L1348.7 1393.5L1357.5 1389.2L1366.5 1388.3L1375.3 1387.1L1384.1 1385.2L1392.9 1386.0L1401.9 1383.1L1410.8 1378.4L1419.6 1373.9L1428.6 1369.3L1437.4 1366.3L1446.2 1363.7L1455.1 1363.6L1464.0 1363.6L1472.9 1362.3L1481.7 1360.3L1490.5 1356.3L1499.5 1353.7L1508.3 1349.9L1517.2 1345.9L1520.0 1345.6L1526.1 1343.3L1534.9 1341.9L1543.9 1338.1L1552.7 1335.5L1561.5 1331.6L1570.3 1328.6L1579.3 1324.3L1588.2 1318.2L1597.0 1315.3L1605.8 1313.6L1614.8 1313.6L1623.6 1312.7L1632.5 1313.0L1641.5 1313.4L1650.3 1312.7L1659.1 1313.6L1667.9 1315.6L1676.9 1316.5L1685.7 1315.6L1694.6 1313.9L1703.4 1312.7L1712.2 1311.3L1721.2 1309.9L1730.0 1308.7L1738.9 1308.4L1747.9 1307.3L1756.7 1307.3L1765.5 1309.1L1774.3 1311.0L1783.3 1311.7L1792.1 1311.3L1801.0 1311.3L1810.0 1312.7L1818.8 1312.7L1827.6 1312.2L1836.4 1313.9L1845.4 1319.1L1854.3 1322.9L1863.1 1326.4L1872.1 1328.6L1880.9 1329.5L1891.1 1330.0" fill="none" stroke="#d6f53c" stroke-width="2.4" stroke-linejoin="round"/>
<rect x="0" y="1260" width="2310" height="2" fill="#fcfcfe"/>
<rect x="2170" y="2" width="2" height="1496" fill="#858585"/>
<rect x="0" y="1496" width="2310" height="2" fill="#858585"/>
<g fill="#dcdcde" font-size="24px">
<text x="2191.5" y="101.0" textLength="94.5" lengthAdjust="spacing">1.14000</text>
<text x="2191.5" y="206.0" textLength="94.5" lengthAdjust="spacing">1.12000</text>
<text x="2191.5" y="312.0" textLength="94.5" lengthAdjust="spacing">1.10000</text>
<text x="2191.5" y="417.0" textLength="94.5" lengthAdjust="spacing">1.08000</text>
<text x="2191.5" y="522.0" textLength="94.5" lengthAdjust="spacing">1.06000</text>
<text x="2191.5" y="627.0" textLength="94.5" lengthAdjust="spacing">1.04000</text>
<text x="2191.5" y="732.0" textLength="94.5" lengthAdjust="spacing">1.02000</text>
<text x="2191.5" y="837.0" textLength="94.5" lengthAdjust="spacing">1.00000</text>
<text x="2191.5" y="942.0" textLength="94.5" lengthAdjust="spacing">0.98000</text>
<text x="2191.5" y="1047.0" textLength="94.5" lengthAdjust="spacing">0.96000</text>
<text x="2191.5" y="1152.0" textLength="94.5" lengthAdjust="spacing">0.94000</text>
<text x="2191.5" y="1258.0" textLength="94.5" lengthAdjust="spacing">0.92000</text>
<text x="2191.5" y="1338.6" textLength="64.4" lengthAdjust="spacing">60.00</text>
<text x="2191.5" y="1417.6" textLength="64.4" lengthAdjust="spacing">40.00</text>
<text x="2191.5" y="1495.6" textLength="64.4" lengthAdjust="spacing">20.00</text>
<text x="2191" y="38" textLength="47.5" lengthAdjust="spacing">USD</text>
</g>
<path d="M2245.5 24.5L2251 29.5L2256.5 24.5" stroke="#dcdcde" stroke-width="2.4" fill="none"/>
<g fill="#dcdcde" font-size="23.5px" text-anchor="middle">
<text x="98" y="1533.8" letter-spacing="0.6">Apr</text>
<text x="285" y="1533.8" letter-spacing="0.6">May</text>
<text x="480" y="1533.8" letter-spacing="0.6">Jun</text>
<text x="675" y="1533.8" letter-spacing="0.6">Jul</text>
<text x="861" y="1533.8" letter-spacing="0.6">Aug</text>
<text x="1065" y="1533.8" letter-spacing="0.6">Sep</text>
<text x="1260" y="1533.8" letter-spacing="0.6">Oct</text>
<text x="1447" y="1533.8" letter-spacing="0.6">Nov</text>
<text x="1642" y="1533.8" letter-spacing="0.6">Dec</text>
<text x="1837" y="1533.8" font-weight="bold" font-size="24px" letter-spacing="2">2023</text>
<text x="2032" y="1533.8" letter-spacing="0.6">Feb</text>
</g>
<text x="16.6" y="46" fill="#dcdcde" font-size="31px" textLength="624" lengthAdjust="spacing">Euro / U.S. Dollar · 1D · FXCM · TradingView</text>
<circle cx="688.9" cy="34" r="18" fill="#2e101b"/>
<text x="689.1" y="45.9" fill="#d8447c" font-size="34px" text-anchor="middle" stroke="#d8447c" stroke-width="0.5" textLength="17.6" lengthAdjust="spacingAndGlyphs">≈</text>
<text x="740.5" y="46.2" fill="#8bdc6b" font-size="26.5px" textLength="240" lengthAdjust="spacing">+0.00060 (+0.06%)</text>
<rect x="11.5" y="1419" width="210.5" height="66.5" rx="33.25" fill="#131722" stroke="#24232a" stroke-width="2"/>
<g fill="#fff">
<path d="M23.6 1442H43.3V1464H32.6V1450.4H23.6Z"/>
<circle cx="47.9" cy="1446" r="3.6"/>
<path d="M56.4 1442H67.5L59.6 1464H48.5Z"/>
<text x="78" y="1460.2" font-size="22.5px" stroke="#fff" stroke-width="0.7" textLength="127.5" lengthAdjust="spacingAndGlyphs">TradingView</text>
</g>
<rect x="2054" y="1499" width="256" height="53" fill="#fff"/>
<clipPath id="tk2"><rect x="2054" y="1499" width="256" height="53"/></clipPath>
<g clip-path="url(#tk2)">
<path d="M2077.60 1500.90L2099.25 1513.40L2099.25 1538.40L2077.60 1550.90L2055.95 1538.40L2055.95 1513.40ZM2065.13 1518.70L2065.13 1533.10L2077.60 1540.30L2090.07 1533.10L2090.07 1518.70L2077.60 1511.50Z" fill="#bd3218" fill-rule="evenodd" stroke="#bd3218" stroke-width="2.25" stroke-linejoin="round"/>
<line x1="2088.77" y1="1520.76" x2="2111.72" y2="1507.51" stroke="#fff" stroke-width="3.75"/>
<line x1="2066.43" y1="1531.04" x2="2043.48" y2="1544.29" stroke="#fff" stroke-width="3.75"/>
</g>
<text x="2113.4" y="1540.3" font-weight="bold" font-size="38.6px" fill="#303030" stroke="#303030" stroke-width="0.9" textLength="196" lengthAdjust="spacingAndGlyphs">TICKMILL</text>
</svg></body></html>
